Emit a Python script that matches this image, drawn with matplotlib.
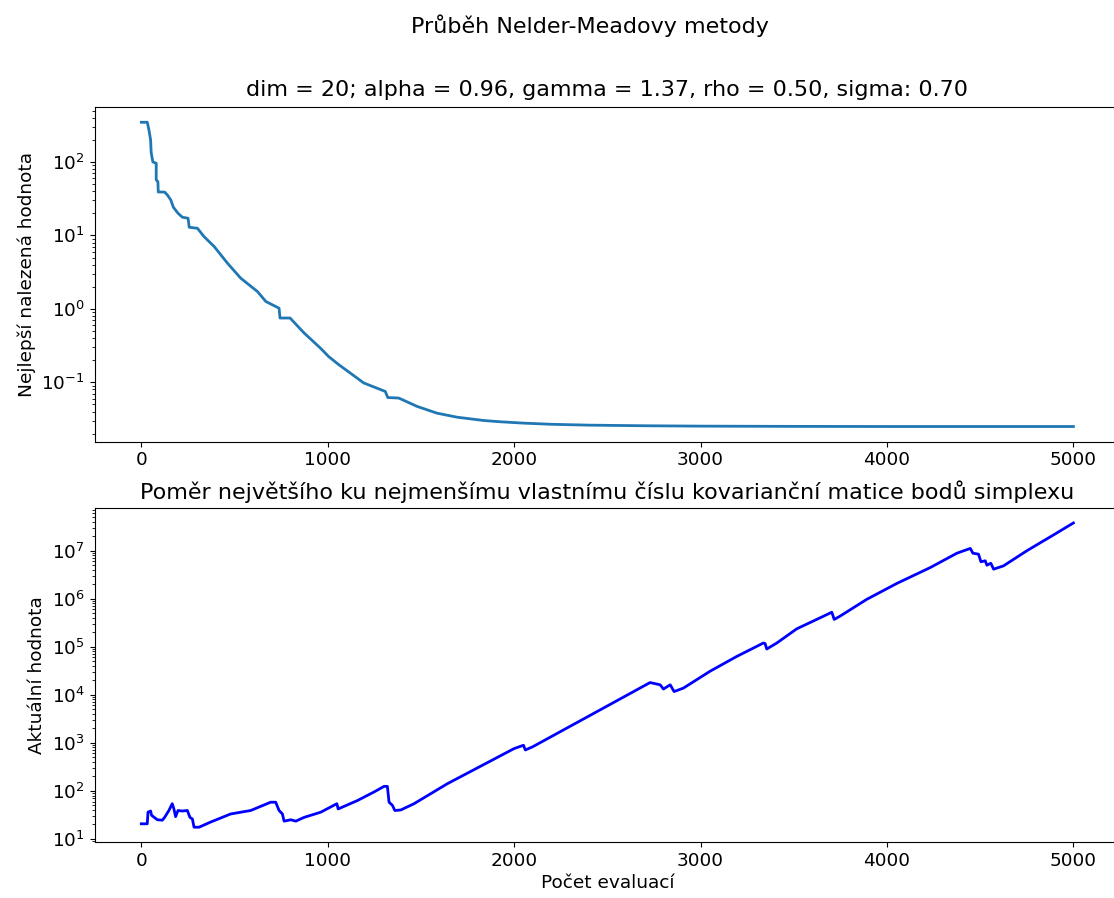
import numpy as np
import matplotlib
matplotlib.use('Agg')
import matplotlib.pyplot as plt

# best value found so far (top panel)
best_x = [0, 32, 41, 50, 53, 62, 80, 80, 89, 91, 125, 140, 158, 172, 197, 220, 251, 257,
          301, 337, 391, 462, 533, 623, 668, 739, 744, 798, 873, 962, 1005, 1059, 1122,
          1193, 1265, 1309, 1322, 1381, 1479, 1586, 1693, 1836, 1926, 2050, 2200, 2400,
          2700, 3000, 3500, 4000, 5000]
best_y = [347, 347, 272, 199, 134, 100, 96, 57, 54, 39, 38.9, 35.5, 30.4, 24.2, 20.0, 17.7,
          17.1, 12.9, 12.5, 9.6, 7.05, 4.19, 2.62, 1.72, 1.26, 1.02, 0.75, 0.75, 0.47,
          0.29, 0.224, 0.174, 0.133, 0.098, 0.083, 0.075, 0.062, 0.061, 0.047, 0.038,
          0.0335, 0.0302, 0.029, 0.0278, 0.0268, 0.0261, 0.0256, 0.0253, 0.0251, 0.025,
          0.025]

# eigenvalue ratio of simplex covariance (bottom panel)
ratio_x = [0, 32, 36, 50, 55, 86, 113, 125, 148, 166, 175, 184, 197, 220, 247, 261, 274,
           283, 310, 372, 479, 587, 694, 721, 739, 757, 766, 802, 829, 873, 963, 1049,
           1056, 1160, 1249, 1302, 1320, 1329, 1347, 1360, 1392, 1463, 1642, 1874, 2000,
           2050, 2060, 2100, 2400, 2729, 2783, 2801, 2837, 2858, 2908, 3051, 3194, 3337,
           3346, 3355, 3409, 3516, 3623, 3704, 3717, 3749, 3892, 4053, 4232, 4375, 4447,
           4461, 4491, 4504, 4527, 4536, 4557, 4572, 4625, 4750, 4902, 5000]
ratio_y = [20.6, 20.6, 36, 38, 31, 25, 24.5, 28, 39, 54, 42, 29, 39, 38, 39, 28, 26, 17.5,
           17.5, 22.4, 33, 39, 58, 58, 39, 33, 23.4, 25, 23.4, 28, 36, 54, 42, 63, 95,
           124, 124, 58, 50, 39, 40, 54, 141, 420, 760, 890, 710, 830, 3600, 18000, 16200,
           13200, 16200, 11700, 13800, 31000, 63000, 120000, 117000, 90000, 120000,
           237000, 372000, 525000, 372000, 437000, 977000, 2090000, 4470000, 8900000,
           11200000, 8900000, 8500000, 5900000, 6200000, 5000000, 5500000, 4140000,
           4850000, 10000000, 22400000, 38000000]

fs_tick = 13.3
fs_title = 16.0

fig = plt.figure(figsize=(11.14, 8.98), dpi=100)
ax1 = fig.add_axes([0.085, 0.5081, 0.9204, 0.3727])
ax2 = fig.add_axes([0.085, 0.0619, 0.9204, 0.3727])

ax1.plot(best_x, best_y, color='#1f77b4', lw=2.0)
ax1.set_yscale('log')
ax1.set_ylabel('Nejlepší nalezená hodnota', fontsize=fs_tick)
ax1.set_title('dim = 20; alpha = 0.96, gamma = 1.37, rho = 0.50, sigma: 0.70',
              fontsize=fs_title, pad=8)

ax2.plot(ratio_x, ratio_y, color='b', lw=2.0)
ax2.set_yscale('log')
ax2.set_ylabel('Aktuální hodnota', fontsize=fs_tick)
ax2.set_xlabel('Počet evaluací', fontsize=fs_tick, labelpad=3)
ax2.set_title('Poměr největšího ku nejmenšímu vlastnímu číslu kovarianční matice bodů simplexu',
              fontsize=fs_title, pad=6)

for ax in (ax1, ax2):
    ax.tick_params(labelsize=fs_tick)

fig.suptitle('Průběh Nelder-Meadovy metody', x=590/1114, y=0.984, fontsize=fs_title)

fig.savefig('out.png', dpi=100)
